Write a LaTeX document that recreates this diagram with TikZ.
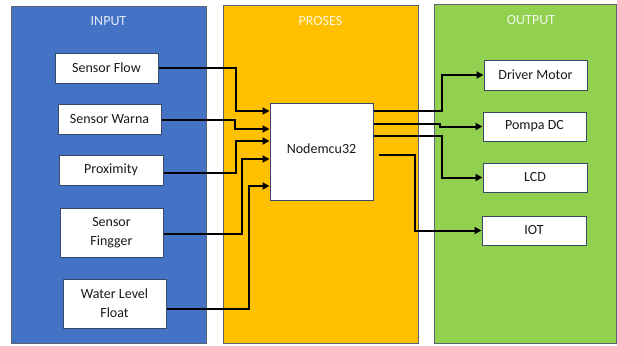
\documentclass[tikz,border=0pt]{standalone}
\usepackage{fontspec}
\setmainfont{Carlito}
\usetikzlibrary{arrows.meta,calc}
\definecolor{inblue}{HTML}{4472C4}
\definecolor{prorange}{HTML}{FFC000}
\definecolor{outgreen}{HTML}{92D050}
\definecolor{boxline}{HTML}{3A4A66}
\definecolor{panelline}{HTML}{5A6470}
\definecolor{txt}{HTML}{1A1A1A}
\begin{document}
\begin{tikzpicture}[x=1pt,y=-1pt,
  panel/.style={draw=panelline,line width=1pt,inner sep=0pt},
  title/.style={font=\fontsize{14}{16}\selectfont,inner sep=0pt},
  box/.style={draw=boxline,line width=1pt,fill=white,inner sep=0pt,text=txt,
    font=\fontsize{14}{19}\selectfont,align=center},
  arr/.style={line width=2pt,-{Triangle[length=7pt,width=7pt]}}]
\useasboundingbox (0,0) rectangle (617,345);
% panels
\node[panel,fill=inblue,minimum width=195pt,minimum height=336pt] (pin) at (108.5,175) {};
\node[panel,fill=prorange,minimum width=195pt,minimum height=337pt] (ppr) at (320.5,174.5) {};
\node[panel,fill=outgreen,minimum width=182pt,minimum height=338pt] (pout) at (525,174) {};
\node[title,text=white!85!inblue] (tin) at (108.5,21) {INPUT};
\node[title,text=white!85!prorange] (tpr) at (320.5,21) {PROSES};
\node[title,text=white!85!outgreen] (tout) at (531,20) {OUTPUT};
% input boxes
\node[box,minimum width=103pt,minimum height=30pt] (sf) at (106.5,68) {Sensor Flow};
\node[box,minimum width=103pt,minimum height=30pt] (sw) at (109.5,119) {Sensor Warna};
\node[box,minimum width=104pt,minimum height=30pt] (px) at (111,170) {Proximity};
\node[box,minimum width=103pt,minimum height=49pt] (fg) at (111.5,232.5) {Sensor\\Fingger};
\node[box,minimum width=103pt,minimum height=49pt] (wl) at (114.5,303.5) {Water Level\\Float};
% process
\node[box,minimum width=103pt,minimum height=97pt] (nm) at (321.5,151.5) {\raisebox{5pt}{Nodemcu32}};
% output boxes
\node[box,minimum width=103pt,minimum height=30pt] (dm) at (535.5,75) {Driver Motor};
\node[box,minimum width=103pt,minimum height=29pt] (pd) at (534.5,126.5) {Pompa DC};
\node[box,minimum width=104pt,minimum height=29pt] (lcd) at (535,177.5) {LCD};
\node[box,minimum width=104pt,minimum height=29pt] (iot) at (534,230.5) {IOT};
% input connectors
\draw[arr] (sf.east) -- (236,68) |- (nm.west |- 0,111);
\draw[arr] (sw.east |- 0,120) -- (235,120) |- (nm.west |- 0,129);
\draw[arr] (px.east |- 0,173) -- (236,173) |- (nm.west |- 0,141);
\draw[arr] (fg.east |- 0,234) -- (242,234) |- (nm.west |- 0,159);
\draw[arr] (wl.east |- 0,309) -- (249,309) |- (nm.west |- 0,186);
% output connectors
\draw[arr] (nm.east |- 0,111) -- (442,111) |- (dm.west);
\draw[arr] (nm.east |- 0,124) -- (440,124) |- (pd.west);
\draw[arr] (nm.east |- 0,136) -- (442,136) |- (lcd.west);
\draw[arr] ([xshift=5pt]nm.east |- 0,155) -- (415,155) |- (iot.west);
\end{tikzpicture}
\end{document}
